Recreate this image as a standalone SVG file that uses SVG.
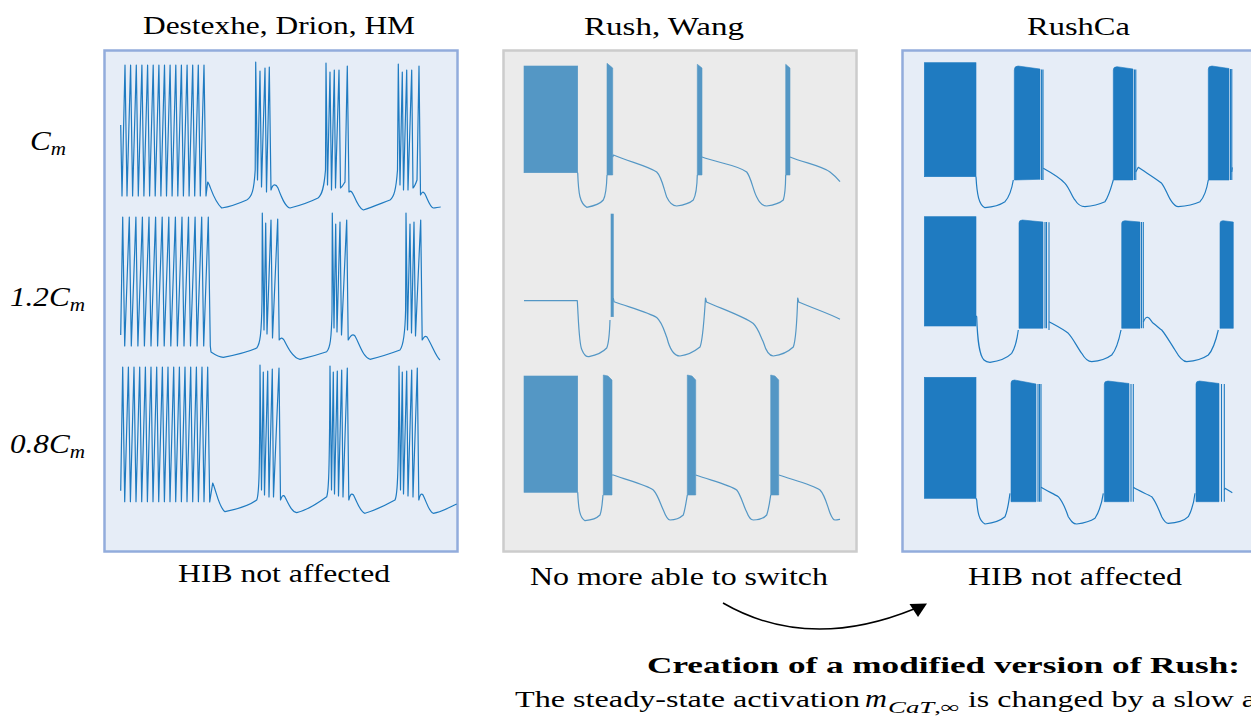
<svg xmlns="http://www.w3.org/2000/svg" width="1251" height="720" viewBox="0 0 1251 720">
<style>
.t{font-family:"Liberation Serif","DejaVu Serif",serif;fill:#000}
.it{font-style:italic}
.pb{fill:#e6edf7;stroke:#92acdc;stroke-width:2.5}
.pg{fill:#ebebeb;stroke:#cccccc;stroke-width:2.5}
.tr{fill:none;stroke:#1f7bc1;stroke-width:1.2;stroke-linejoin:round}
.trg{fill:none;stroke:#5497c5;stroke-width:1.2;stroke-linejoin:round}
.bk{fill:#1f7bc1;stroke:#1f7bc1;stroke-width:0.6}
.bkg{fill:#5497c5;stroke:#5497c5;stroke-width:0.6}
.sl{stroke:#1f7bc1;stroke-width:1.1}
</style>
<rect width="1251" height="720" fill="#ffffff"/>

<g id="labels-rows">
<text class="t it" x="30" y="150" font-size="28" textLength="36" lengthAdjust="spacingAndGlyphs">C<tspan font-size="19" dy="5">m</tspan></text>
<text class="t it" x="10" y="306" font-size="28" textLength="75" lengthAdjust="spacingAndGlyphs">1.2C<tspan font-size="19" dy="5">m</tspan></text>
<text class="t it" x="10" y="453" font-size="28" textLength="75" lengthAdjust="spacingAndGlyphs">0.8C<tspan font-size="19" dy="5">m</tspan></text>
</g>

<g id="panel-destexhe">
<text class="t" x="143" y="34" font-size="25" textLength="272" lengthAdjust="spacingAndGlyphs">Destexhe, Drion, HM</text>
<rect class="pb" x="104.5" y="50.5" width="353" height="501"/>
<path class="tr" d="M120.7,125 L122,196 L125,65 L127,196 L130.6,65 L132.6,196 L136.3,65 L138.3,196 L141.9,65 L143.9,196 L147.6,65 L149.6,196 L153.2,65 L155.2,196 L158.9,65 L160.9,196 L164.5,65 L166.5,196 L170.1,65 L172.1,196 L175.8,65 L177.8,196 L181.4,65 L183.4,196 L187.1,65 L189.1,196 L192.7,65 L194.7,196 L198.3,65 L200.3,196 L204,65 L206,196 L207.7,182 C210,184 213,200 221.7,208 C228,207 240,203 246.7,200 C252,197 254,190 255.2,170 L255.7,62 L257.5,180 L260,71 L261.5,187 L265,68 L266.5,192 L269.3,67 L271,190 C273,183 276,184 278,188 C281,196 285,207 290,208 C298,206 310,202 318,198 C322,195 324,188 325.5,170 L326,63 L327.5,185 L330,72 L331.5,190 L334.3,70 L335.5,188 L339,70 L340.5,188 C343,186 344,183 345,182 L347.3,66 L349,192 C351,190 352,192 354,196 C357,203 360,209 363.3,210 C372,207 382,203 390,200 C394,197 396,190 397.5,170 L398.3,64 L400,185 L402.3,72 L403.5,190 L406.7,70 L408,190 L411.7,70 L413,188 C415,186 416,183 417,180 L419,66 L420.5,195 C422,192 423,191 425,194 C428,200 430,207 433.3,208 C436,208 438,207 440.7,207"/>
<path class="tr" d="M120.7,335 L122.7,217 L124.7,346 L129.3,217 L131.3,346 L135.9,217 L137.9,346 L142.4,217 L144.4,346 L149,217 L151,346 L155.6,217 L157.6,346 L162.2,217 L164.2,346 L168.8,217 L170.8,346 L175.4,217 L177.4,346 L182,217 L184,346 L188.5,217 L190.5,346 L195.1,217 L197.1,346 L201.7,217 L203.7,346 L208.3,217 L210.3,346 L211,352 C214,354 218,357 223.3,357.3 C235,355 248,352 256.7,348 C260,344 261.5,335 262,300 L262.3,213 L264,330 L265.7,223 L267,334 L271,220 L272.5,338 L277.7,219 L279.2,340 C280.5,338 282,337 284,340 C288,348 293,358 300,359.3 C310,357 320,354 326.7,351.7 C330,348 331.5,340 332,310 L332.3,213 L334,328 L335.7,224 L337,332 L340,222 L341.5,335 L346.7,220 L348.2,340 C350,337 352,333 355,336 C360,345 363,357 370,359.3 C380,357 392,353 400,350 C403,346 405,338 405.6,310 L406,213 L407.5,330 L410,224 L411.5,333 L414,222 L415.5,336 L420.7,220 L422.2,340 C423.5,338 424.5,335 427,337 C432,345 436,357 440,360"/>
<path class="tr" d="M120.7,490.7 L122.7,367 L124.7,501.7 L128.4,367 L130.4,501.7 L134,367 L136,501.7 L139.7,367 L141.7,501.7 L145.4,367 L147.4,501.7 L151,367 L153,501.7 L156.7,367 L158.7,501.7 L162.4,367 L164.4,501.7 L168,367 L170,501.7 L173.7,367 L175.7,501.7 L179.4,367 L181.4,501.7 L185,367 L187,501.7 L190.7,367 L192.7,501.7 L196.4,367 L198.4,501.7 L202,367 L204,501.7 L207.7,367 L209.7,502 L212.7,483 C216,490 219,508 225,511.7 C238,509 250,505 256.7,500 C259,495 259.7,480 260,365 L261.5,490 L263.3,372 L264.5,495 L267.7,371 L269,497 L272.3,369 L273.5,497 L279,368 L280.5,500 C282,496 283,494 285,497 C289,505 292,512 296.7,512.7 C308,510 318,503 326.7,496.7 C328.5,492 329.5,480 330,366 L331.5,490 L333.3,372 L334.5,494 L337.3,371 L338.5,496 L341.7,370 L343,497 L347.3,368 L348.8,500 C350,495 351,492.7 353.5,495 C357,502 360,512 365,513.3 C376,510 386,505 395,500 C397.5,495 398.5,480 399,366 L400.5,490 L402.3,372 L403.5,494 L406.7,371 L408,496 L411.7,370 L413,497 L417.3,368 L418.8,500 C420,495 421,492.7 423,495 C427,503 429,512 433.3,513.3 C442,512 450,507 456.7,504"/>
<text class="t" x="178" y="582" font-size="26" textLength="212" lengthAdjust="spacingAndGlyphs">HIB not affected</text>
</g>

<g id="panel-rush-wang">
<text class="t" x="584" y="35" font-size="25" textLength="160" lengthAdjust="spacingAndGlyphs">Rush, Wang</text>
<rect class="pg" x="503.5" y="50.5" width="353" height="501"/>
<rect class="bkg" x="524" y="66" width="53.7" height="106.7"/>
<path class="trg" d="M577.7,172.7 C578.5,195 580,203 586.7,207.3 C594,206 600,204 603.3,200 C605.5,196 606.5,190 607,175"/>
<path class="bkg" d="M607,63.3 L612.7,68 L612.7,175 L607,175 Z"/>
<path class="trg" d="M612.7,157 L613.5,155 C630,162 648,166 656.7,172 C662,177 664,190 666.7,197 C670,204 673,206 676.7,206 C684,205 690,203 693.3,200 C696,195 697,190 697.3,175"/>
<path class="bkg" d="M697.3,64.3 L702,68 L702,175 L697.3,175 Z"/>
<path class="trg" d="M702,157 C718,163 738,165 746.7,172 C751,177 753,190 756.7,197 C760,204 763,206 766.7,206 C774,205 780,203 783.3,200 C785,195 785.5,190 785.7,175"/>
<path class="bkg" d="M785.7,64.3 L790,68 L790,175 L785.7,175 Z"/>
<path class="trg" d="M790,157 C805,163 822,166 830,172 C834,175 837,178 840,181.7"/>

<path class="trg" d="M524,300.7 L577.3,300.7 C578.5,320 579,345 582,350 C584,355 586,357 589,356.7 C597,355 603,352 606.7,348 C609,343 609.5,335 610,320"/>
<rect class="bkg" x="611" y="214" width="2.3" height="102.7"/>
<path class="trg" d="M613.3,298 L614,301.7 C632,308 650,313 656.7,317.5 C662,322 664,330 667,338 C670,350 674,356 680,356 C688,355 695,351 700,347 C703,340 704,320 705.5,298 L706.5,302 C725,310 745,317 753.3,323.5 C758,328 760,335 763.3,342 C766,351 769,356 773.3,356 C782,355 789,351 793.3,347 C796,340 797,320 797.7,298 L798.7,302 C815,309 830,314 840,319.3"/>

<rect class="bkg" x="524" y="376" width="53.7" height="116.3"/>
<path class="trg" d="M577.7,492.3 C578.5,510 580,518 585,520.7 C592,520 597,518 600,515 C602,510 602.5,500 603,495"/>
<path class="bkg" d="M603.3,375 L608,376 L612,380 L612,495 L603.3,495 Z"/>
<path class="trg" d="M612,475 L613.3,475 C630,481 646,485 653.3,490 C658,495 660,503 663.3,510 C666,517 668,520 670,520 C676,520 680,518 683.3,515 C685,510 686.5,500 687.3,495"/>
<path class="bkg" d="M687.3,375 L692,376 L695.7,380 L695.7,495 L687.3,495 Z"/>
<path class="trg" d="M695.7,475 C713,481 730,485 736.7,490 C741,495 743,505 746.7,512 C749,518 751,520 753.3,520 C760,520 764,518 766.7,515 C769,508 770,500 770.7,495"/>
<path class="bkg" d="M770.7,375 L775,376 L778.7,380 L778.7,495 L770.7,495 Z"/>
<path class="trg" d="M778.7,475 C797,481 813,485 820,490 C825,495 827,505 830,513 C832,518 833,520 835,520 C837,520 839,519.5 840,519.3"/>
<text class="t" x="530" y="585" font-size="26" textLength="298" lengthAdjust="spacingAndGlyphs">No more able to switch</text>
</g>

<g id="panel-rushca">
<text class="t" x="1027" y="35" font-size="25" textLength="103" lengthAdjust="spacingAndGlyphs">RushCa</text>
<rect class="pb" x="902.5" y="50.5" width="360" height="501"/>
<rect class="bk" x="924.3" y="62.7" width="51.7" height="114"/>
<path class="tr" d="M976,176.7 C977,195 979,205 985,207.7 C993,207 1000,205 1005,201.7 C1010,196 1012,188 1013.3,180"/>
<path class="bk" d="M1014.3,180 L1014.3,70 Q1014.3,66 1018,66 L1040,69 L1040,179.3 Z"/>
<path class="sl" d="M1041.6,69.5 V180 M1043,69.5 V180"/>
<path class="tr" d="M1043.3,168.3 C1050,172 1060,178 1065,183.3 C1070,189 1072,197 1075,200 C1078,205 1081,206.7 1085,206.7 C1093,206 1100,204 1105,201.7 C1109,196 1111,188 1113.3,180"/>
<path class="bk" d="M1113.3,180 L1113.3,70 Q1113.3,66.7 1117,66.7 L1133,69 L1133,180 Z"/>
<path class="sl" d="M1134.5,69.5 V180 M1135.8,69.5 V180"/>
<path class="tr" d="M1135.7,172 L1138.3,167.3 C1145,172 1155,178 1161.7,183.3 C1166,189 1168,197 1171.7,201.7 C1174,205 1176,206.7 1178.3,206.7 C1187,206 1195,204 1200,201.7 C1205,196 1207,188 1208.3,180"/>
<path class="bk" d="M1208.3,180 L1208.3,69 Q1208.3,66 1212,66 L1229,68.5 L1229,180 Z"/>
<path class="sl" d="M1230.5,69 V180 M1231.8,69 V180"/>
<path class="tr" d="M1231.7,172 L1232.3,167.3"/>

<rect class="bk" x="924.3" y="216.7" width="51.7" height="109.3"/>
<path class="tr" d="M976,316 L976.7,316.7 C977.5,340 979,355 984,360 C986,362 988,362.3 990,362.3 C999,361 1007,358 1011.7,353.3 C1015,348 1017,340 1018.3,330"/>
<path class="bk" d="M1019,328.3 L1019,223 Q1019,220 1022.5,220 L1043,222 L1043,328.3 Z"/>
<path class="sl" d="M1045,222 V328.3 M1046.5,222 V328.3 M1049,222.3 V330"/>
<path class="tr" d="M1049,321.7 C1055,325 1063,329 1068.3,333.3 C1073,338 1077,347 1081.7,353.3 C1085,359 1088,361.7 1091.7,361.7 C1100,361 1107,358.5 1111.7,355 C1116,350 1119,340 1121,330"/>
<path class="bk" d="M1121.7,328.3 L1121.7,223.5 Q1121.7,220.7 1125,220.7 L1140,222 L1140,328.3 Z"/>
<path class="sl" d="M1141.5,222 V328.3 M1143.3,222 V328.3"/>
<path class="tr" d="M1143.3,322 C1145,318 1146.5,317 1147.7,317.3 C1150,318 1151,321 1153,323 C1158,327 1160,329 1161.7,330 C1166,335 1171,344 1175,350 C1179,357 1183,361.7 1186.7,361.7 C1196,361 1204,358 1208.3,355 C1213,350 1216,340 1218.3,330"/>
<path class="bk" d="M1220,328.3 L1220,223.5 Q1220,220.7 1223,220.7 L1233.3,222 L1233.3,328.3 Z"/>

<rect class="bk" x="924.3" y="377.3" width="51.7" height="121"/>
<path class="tr" d="M976,498.3 L976.7,500 C977.5,512 979,521 985,524 C993,523 1000,521 1005,516.7 C1008,510 1009,500 1010,493.3"/>
<path class="bk" d="M1011,501.7 L1011,383 Q1011,380 1014.5,380 L1036,384 L1036,501.7 Z"/>
<path class="sl" d="M1038,384 V501.7 M1039.5,384 V501.7 M1041,384 V501.7"/>
<path class="tr" d="M1041,487.3 C1047,491 1054,494 1058.3,496.7 C1063,502 1066,510 1068.3,516.7 C1071,521 1073,524 1076.7,524 C1085,523 1091,521 1095,518.3 C1099,512 1102,502 1103.3,493.3"/>
<path class="bk" d="M1104.3,501.7 L1104.3,384 Q1104.3,381 1108,381 L1129,383.5 L1129,501.7 Z"/>
<path class="sl" d="M1131,384 V501.7 M1133.3,384 V501.7"/>
<path class="tr" d="M1133.3,487.3 C1139,491 1147,494 1151.7,496.7 C1156,502 1159,510 1161.7,516.7 C1164,521 1166,523.3 1168.3,523.3 C1177,523 1184,521 1188.3,516.7 C1192,510 1194,502 1195,493.3"/>
<path class="bk" d="M1196,501.7 L1196,384 Q1196,381 1199.5,381 L1219,383.5 L1219,501.7 Z"/>
<path class="sl" d="M1221.5,384 V501.7 M1224.3,384 V501.7"/>
<path class="tr" d="M1224.3,490 L1225,488.3 C1228,490 1230,491.5 1232.3,492.7"/>
<text class="t" x="968" y="585" font-size="26" textLength="214" lengthAdjust="spacingAndGlyphs">HIB not affected</text>
</g>

<g id="connectors">
<path d="M723,603 Q808,652 914,609" fill="none" stroke="#000" stroke-width="1.5"/>
<polygon points="927,603.5 909.5,604 918,617" fill="#000"/>
</g>

<g id="caption">
<text class="t" x="647" y="673" font-size="24" font-weight="bold" textLength="593" lengthAdjust="spacingAndGlyphs">Creation of a modified version of Rush:</text>
<text class="t" x="515" y="707" font-size="24" textLength="345" lengthAdjust="spacingAndGlyphs">The steady-state activation</text>
<text class="t it" x="865" y="707" font-size="26" textLength="22" lengthAdjust="spacingAndGlyphs">m</text>
<text class="t" x="888" y="713" font-size="17" textLength="72" lengthAdjust="spacingAndGlyphs"><tspan class="it">CaT</tspan>,∞</text>
<text class="t" x="968" y="707" font-size="24" textLength="288" lengthAdjust="spacingAndGlyphs">is changed by a slow a</text>
</g>
</svg>
